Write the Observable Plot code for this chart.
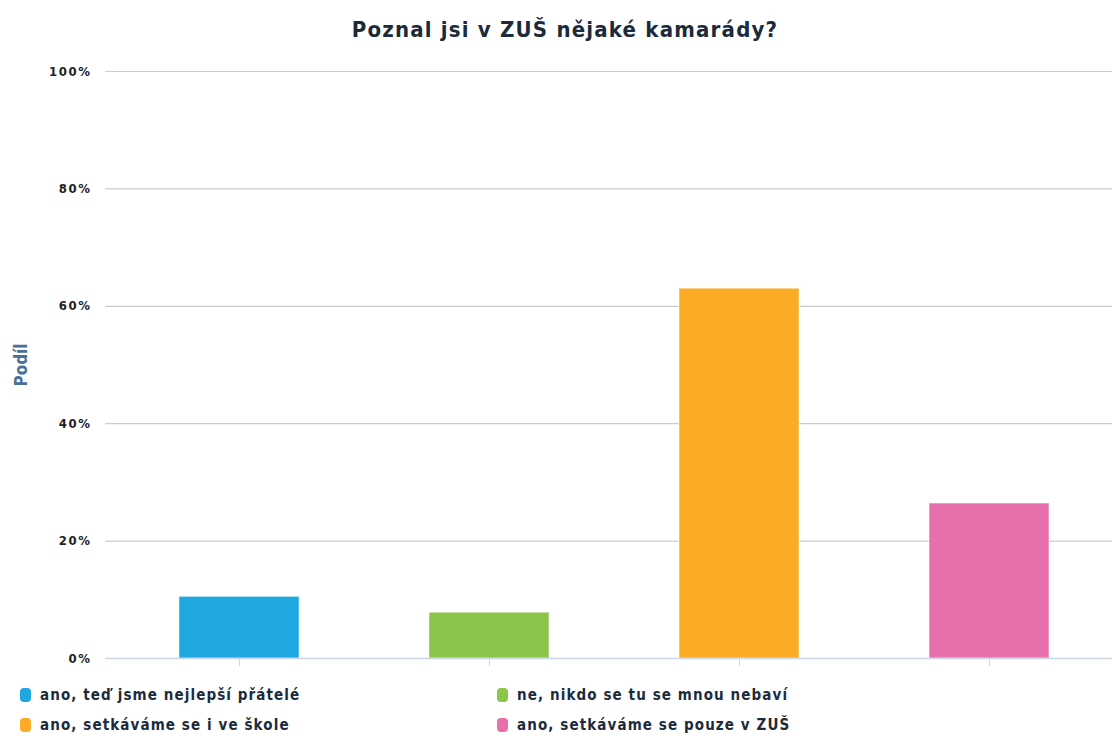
<!DOCTYPE html>
<html>
<head>
<meta charset="utf-8">
<script src="https://cdn.jsdelivr.net/npm/d3@7"></script>
<script src="https://cdn.jsdelivr.net/npm/@observablehq/plot@0.6"></script>
<style>
  body { margin: 0; background: #fff; font-family: "DejaVu Sans Condensed", "DejaVu Sans", sans-serif; }
  #title { height: 58px; line-height: 60px; text-align: center; font-weight: bold; font-size: 22px; letter-spacing: 1.2px; color: #1b2b3c; padding-left: 18px; }
  #chart svg { display: block; }
  #chart svg g[aria-label="y-axis tick label"] text { letter-spacing: 1.6px; }
  #legend { position: relative; height: 58px; font-size: 15px; letter-spacing: 1.1px; font-weight: bold; color: #1b2b3c; }
  .item { position: absolute; display: flex; align-items: center; white-space: nowrap; }
  .sw { width: 11px; height: 14px; border-radius: 4px; margin-right: 9px; }
</style>
</head>
<body>
<div id="title">Poznal jsi v ZUŠ nějaké kamarády?</div>
<div id="chart"></div>
<div id="legend"></div>
<script>
const categories = [
  "ano, teď jsme nejlepší přátelé",
  "ne, nikdo se tu se mnou nebaví",
  "ano, setkáváme se i ve škole",
  "ano, setkáváme se pouze v ZUŠ"
];
const values = [10.5, 7.8, 63.0, 26.4];
const colors = ["#1fa8e0", "#8bc64a", "#fcab26", "#e770aa"];
const yTicks = [0, 20, 40, 60, 80, 100];
const legendOrder = [0, 1, 2, 3];

const data = categories.map((c, i) => ({category: c, value: values[i], color: colors[i]}));

const chart = Plot.plot({
  width: 1112,
  height: 620,
  marginLeft: 105,
  marginRight: 0,
  marginTop: 13,
  marginBottom: 20,
  style: { fontFamily: "'DejaVu Sans Condensed', 'DejaVu Sans', sans-serif", background: "#fff" },
  x: { domain: categories, range: [114, 1114], paddingInner: 0.52, paddingOuter: 0.26, axis: null },
  y: { domain: [0, 100], axis: null },
  marks: [
    Plot.ruleY(yTicks.filter(d => d > 0), { stroke: "#cccccc", strokeWidth: 1.2 }),
    Plot.barY(data, { x: "category", y: "value", fill: "color", stroke: "#ffffff", strokeOpacity: 0.5, strokeWidth: 1 }),
    Plot.ruleY([0], { stroke: "#ccd6e4", strokeWidth: 1.5 }),
    Plot.axisX({ tickSize: 8, stroke: "#ccd6e4", tickFormat: () => "", label: null }),
    Plot.axisY({ ticks: yTicks, tickSize: 0, tickPadding: 14, tickFormat: d => d + "%", fontSize: 13, fontWeight: "bold", fill: "#222", label: null }),
    Plot.text(["Podíl"], { frameAnchor: "left", textAnchor: "middle", dx: -84, rotate: -90, fontSize: 17, fontWeight: "bold", fill: "#4a6f98", letterSpacing: "0.8px" })
  ]
});
document.getElementById("chart").appendChild(chart);

const legend = document.getElementById("legend");
const pos = [[20, 8], [497, 8], [20, 38], [497, 38]];
legendOrder.forEach((i, k) => {
  const el = document.createElement("div");
  el.className = "item";
  el.style.left = pos[k][0] + "px";
  el.style.top = pos[k][1] + "px";
  el.innerHTML = `<span class="sw" style="background:${colors[i]}"></span><span>${categories[i]}</span>`;
  legend.appendChild(el);
});
</script>
</body>
</html>
